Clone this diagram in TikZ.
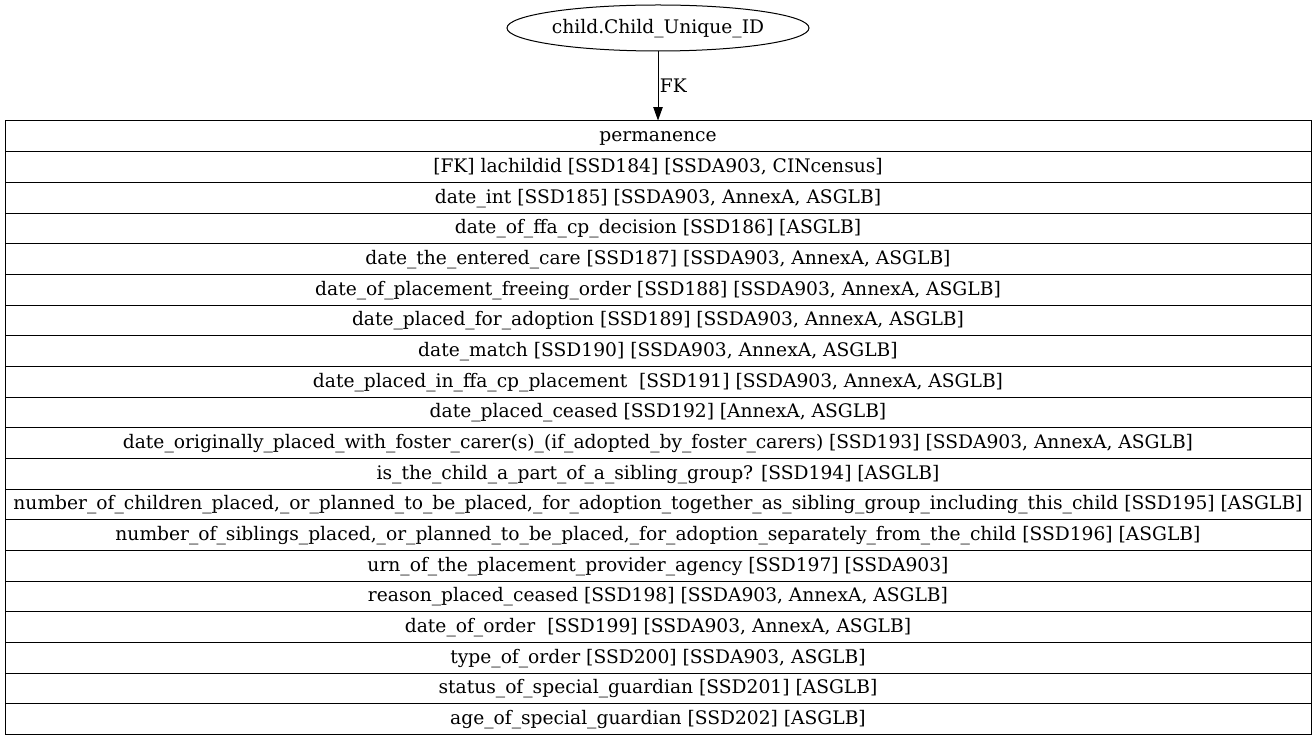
\documentclass[tikz,border=0pt]{standalone}
\usepackage{fontspec}
\setmainfont{DejaVu Serif}
\usetikzlibrary{arrows.meta,shapes.geometric}
\tikzset{
  field/.style={draw,line width=0.75pt,minimum width=979.5pt,minimum height=23pt,inner sep=0pt,text height=8pt,text depth=0pt},
  key/.style={draw,line width=0.75pt,ellipse,minimum width=226.5pt,minimum height=34.5pt,inner sep=0pt,text height=8pt,text depth=0pt}
}
\begin{document}
\begin{tikzpicture}[>={Triangle[length=10pt,width=7pt]},x=0.75pt,y=-0.75pt,font=\fontsize{14}{16}\selectfont]
\useasboundingbox (0,0) rectangle (1316,741);
\node[key] (cid) at (658,28) {child.Child\_Unique\_ID};
\foreach \txt [count=\i] in {
  {permanence},
  {[FK] lachildid [SSD184] [SSDA903, CINcensus]},
  {date\_int [SSD185] [SSDA903, AnnexA, ASGLB]},
  {date\_of\_ffa\_cp\_decision [SSD186] [ASGLB]},
  {date\_the\_entered\_care [SSD187] [SSDA903, AnnexA, ASGLB]},
  {date\_of\_placement\_freeing\_order [SSD188] [SSDA903, AnnexA, ASGLB]},
  {date\_placed\_for\_adoption [SSD189] [SSDA903, AnnexA, ASGLB]},
  {date\_match [SSD190] [SSDA903, AnnexA, ASGLB]},
  {date\_placed\_in\_ffa\_cp\_placement\ \ [SSD191] [SSDA903, AnnexA, ASGLB]},
  {date\_placed\_ceased [SSD192] [AnnexA, ASGLB]},
  {date\_originally\_placed\_with\_foster\_carer(s)\_(if\_adopted\_by\_foster\_carers) [SSD193] [SSDA903, AnnexA, ASGLB]},
  {is\_the\_child\_a\_part\_of\_a\_sibling\_group? [SSD194] [ASGLB]},
  {number\_of\_children\_placed,\_or\_planned\_to\_be\_placed,\_for\_adoption\_together\_as\_sibling\_group\_including\_this\_child [SSD195] [ASGLB]},
  {number\_of\_siblings\_placed,\_or\_planned\_to\_be\_placed,\_for\_adoption\_separately\_from\_the\_child [SSD196] [ASGLB]},
  {urn\_of\_the\_placement\_provider\_agency [SSD197] [SSDA903]},
  {reason\_placed\_ceased [SSD198] [SSDA903, AnnexA, ASGLB]},
  {date\_of\_order\ \ [SSD199] [SSDA903, AnnexA, ASGLB]},
  {type\_of\_order [SSD200] [SSDA903, ASGLB]},
  {status\_of\_special\_guardian [SSD201] [ASGLB]},
  {age\_of\_special\_guardian [SSD202] [ASGLB]}}
  \node[field] (r\i) at ({658},{121+30.67*(\i-0.5)}) {\txt};
\draw[->,line width=0.75pt] (cid) -- (r1) node[midway,right,inner sep=1pt] {FK};
\end{tikzpicture}
\end{document}
